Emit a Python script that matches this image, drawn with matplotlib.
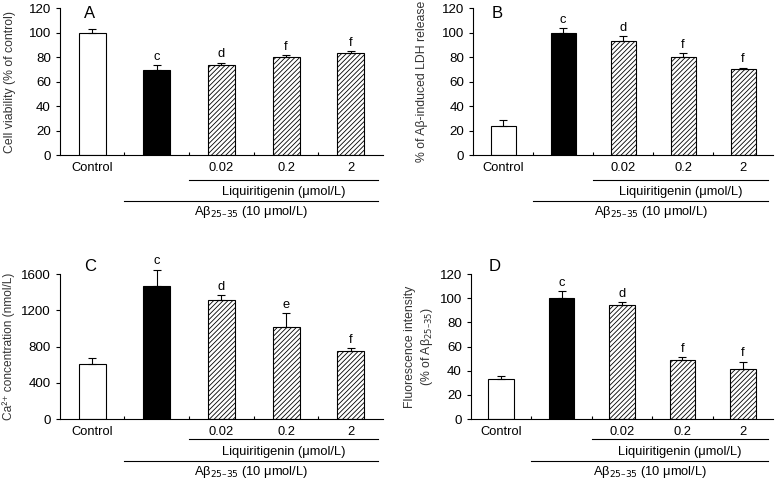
import matplotlib
matplotlib.use('Agg')
import matplotlib.pyplot as plt
import matplotlib.transforms as mtransforms

plt.rcParams['font.family'] = ['Liberation Sans', 'DejaVu Sans']
plt.rcParams['hatch.linewidth'] = 0.6

groups = ['Control', '', '0.02', '0.2', '2']

# panel A - cell viability
a_vals = [100, 69.5, 73.5, 80, 83.5]
a_err = [3, 4, 2, 1.5, 1.5]
a_letters = ['', 'c', 'd', 'f', 'f']

# panel B - LDH release
b_vals = [23.5, 100, 93, 80.5, 70.5]
b_err = [5, 4, 4, 3, 1]
b_letters = ['', 'c', 'd', 'f', 'f']

# panel C - Ca2+ concentration
c_vals = [605, 1470, 1312, 1012, 750]
c_err = [70, 180, 58, 160, 33]
c_letters = ['', 'c', 'd', 'e', 'f']

# panel D - fluorescence intensity
d_vals = [33.5, 100, 94.5, 48.5, 41.5]
d_err = [2, 6, 2, 2.5, 6]
d_letters = ['', 'c', 'd', 'f', 'f']

fig = plt.figure(figsize=(7.77, 4.8), dpi=100)

# name, rect, values, errors, letters, ymax, step, ylabel, label x, label size, bottom row?
panels = [
    ('A', [0.077, 0.677, 0.416, 0.306], a_vals, a_err, a_letters, 120, 20,
     'Cell viability (% of control)', -0.136, 8.8, False),
    ('B', [0.609, 0.677, 0.386, 0.306], b_vals, b_err, b_letters, 120, 20,
     '% of A\u03b2-induced LDH release', -0.15, 8.8, False),
    ('C', [0.077, 0.127, 0.416, 0.302], c_vals, c_err, c_letters, 1600, 400,
     'Ca\u00b2\u207a concentration (nmol/L)', -0.14, 8.6, True),
    ('D', [0.606, 0.127, 0.389, 0.302], d_vals, d_err, d_letters, 120, 20,
     'Fluorescence intensity\n(% of A\u03b2$_{25\u201335}$)', -0.12, 8.8, True),
]

fills = ['white', 'black', 'white', 'white', 'white']
hatches = [None, None, '///////', '///////', '///////']
fs = 9.3

for name, rect, vals, err, letters, ymax, ystep, ylabel, lx, lfs, bottom_row in panels:
    ax = fig.add_axes(rect)
    x = list(range(len(vals)))
    for i in x:
        ax.bar(i, vals[i], width=0.42, color=fills[i], edgecolor='black',
               linewidth=0.8, hatch=hatches[i], zorder=2)
    ax.errorbar(x, vals, yerr=[[0] * len(err), err], fmt='none', ecolor='black',
                elinewidth=0.8, capsize=3, capthick=0.8, zorder=3, clip_on=False)
    for i in x:
        if letters[i]:
            ax.text(i, vals[i] + err[i] + ymax * 0.015, letters[i], ha='center',
                    va='bottom', fontsize=fs)
    ax.set_xlim(-0.5, 4.5)
    ax.set_ylim(0, ymax)
    ax.set_yticks(range(0, ymax + 1, ystep))
    ax.set_xticks([0.5, 1.5, 2.5, 3.5])
    ax.set_xticklabels([])
    ax.tick_params(axis='x', direction='in', length=2, width=0.8)
    ax.tick_params(axis='y', direction='out', length=3, width=0.8, labelsize=fs + 0.3)
    ax.spines['top'].set_visible(False)
    ax.spines['right'].set_visible(False)
    ax.spines['left'].set_linewidth(0.8)
    ax.spines['bottom'].set_linewidth(0.8)
    ax.set_ylabel(ylabel, fontsize=lfs, color='#333333')
    ax.yaxis.set_label_coords(lx, 0.5)

    h = 145.0 if bottom_row else 147.0
    if bottom_row:
        off = [13, 20, 33, 42, 53]
    else:
        off = [13, 25, 37, 46, 57]
    trans = mtransforms.blended_transform_factory(ax.transData, ax.transAxes)
    for i in x:
        ax.text(i, -off[0] / h, groups[i], transform=trans, ha='center',
                va='center', fontsize=fs)
    ax.plot([1.5, 4.42], [-off[1] / h, -off[1] / h], color='black', linewidth=0.8,
            transform=trans, clip_on=False)
    ax.text(2.96, -off[2] / h, 'Liquiritigenin (\u03bcmol/L)', transform=trans,
            ha='center', va='center', fontsize=fs)
    ax.plot([0.5, 4.42], [-off[3] / h, -off[3] / h], color='black', linewidth=0.8,
            transform=trans, clip_on=False)
    ax.text(2.46, -off[4] / h, 'A\u03b2$_{25\u201335}$ (10 \u03bcmol/L)', transform=trans,
            ha='center', va='center', fontsize=fs)

    ly = 1.055 if bottom_row else 0.966
    ax.text(0.075 if name in 'AC' else 0.06, ly, name, transform=ax.transAxes,
            ha='left', va='center', fontsize=12)

fig.savefig('out.png', dpi=100)
